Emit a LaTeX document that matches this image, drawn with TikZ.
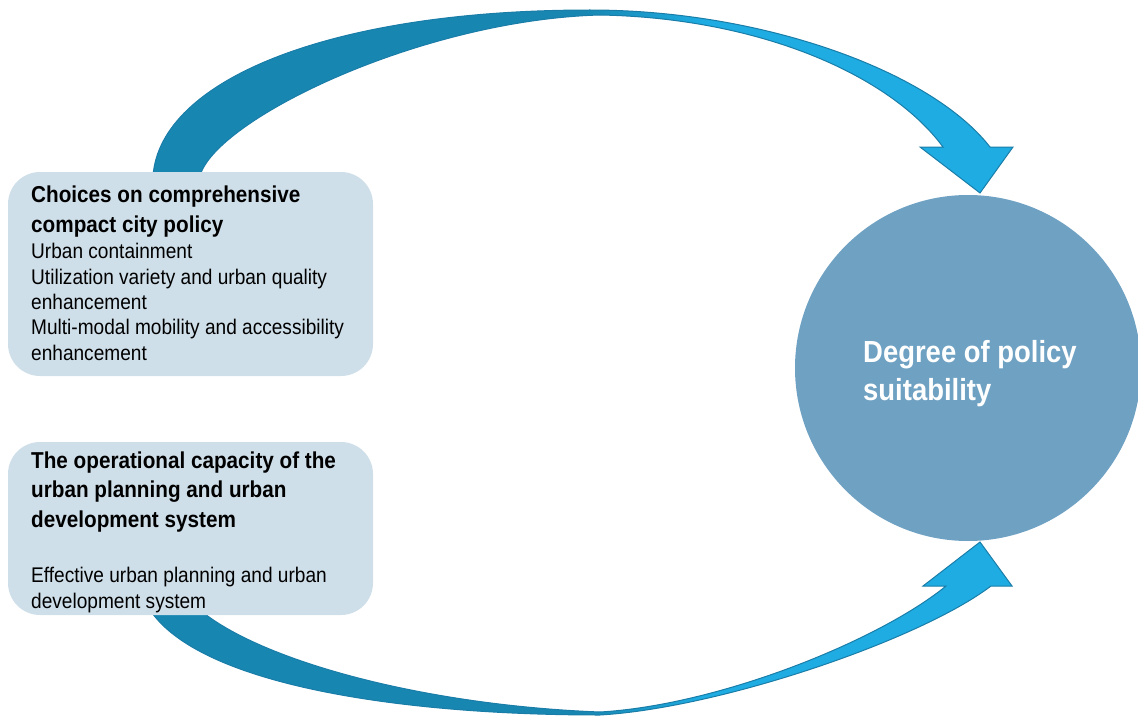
\documentclass[tikz,border=0pt]{standalone}
\usepackage{fontspec}
\setmainfont{Liberation Sans}[FakeStretch=0.9]
\definecolor{boxfill}{HTML}{CFDFE9}
\definecolor{suitfill}{HTML}{6FA1C2}
\definecolor{arrowdark}{HTML}{1787B2}
\definecolor{arrowlight}{HTML}{1EACE2}
\definecolor{arrowedge}{HTML}{1A7DA8}
\pgfdeclarehorizontalshading{arrowgrad}{100bp}{color(0bp)=(arrowdark); color(50bp)=(arrowdark); color(57bp)=(arrowlight); color(100bp)=(arrowlight)}
\tikzset{
	choicebox/.style={fill=boxfill, rounded corners=32pt},
	bigarrow/.style={shading=arrowgrad, draw=arrowedge, line width=1pt},
	% base of a multi-line node = baseline of its last line
	titletext/.style={anchor=base west, inner sep=0, align=left, font=\bfseries\fontsize{23}{29.5}\selectfont},
	bodytext/.style={anchor=base west, inner sep=0, align=left, font=\fontsize{21.2}{25.3}\selectfont},
}

\begin{document}
\begin{tikzpicture}[x=1pt, y=-1pt]
		%%%%% START %%%%%
		\useasboundingbox (0,0) rectangle (1138,717);
		
		\node[circle, fill=suitfill, minimum size=346pt, inner sep=0] (suit) at (968,368) {};
		\node[anchor=base west, inner sep=0, text=white, align=left,
			font=\bfseries\fontsize{30.5}{38}\selectfont] (suitlabel) at (863,400) {Degree of policy\\suitability};
		
		% upper arrow
		\shadedraw[bigarrow] (153,176) .. controls (160,80) and (330,10) .. (590,10)
			.. controls (760,10) and (930,70) .. (990,147)
			-- (1013,147) -- (980,193) -- (920,147) -- (943,147)
			.. controls (890,75) and (760,18) .. (600,15)
			.. controls (420,20) and (215,120) .. (200,176) -- cycle;
		
		% lower arrow
		\shadedraw[bigarrow] (150,610) .. controls (200,685) and (400,715) .. (600,715)
			.. controls (720,708) and (920,640) .. (991,586)
			-- (1012,586) -- (980,542) -- (923,586) -- (946,586)
			.. controls (880,640) and (720,705) .. (600,712)
			.. controls (420,705) and (260,660) .. (200,610) -- cycle;
		
		\fill[choicebox] (8,172) rectangle (373,376);
		\node[titletext] (choicetitle) at (31,232) {Choices on comprehensive\\compact city policy};
		\node[bodytext] (choicebody) at (31,360) {Urban containment\\Utilization variety and urban quality\\enhancement\\Multi-modal mobility and accessibility\\enhancement};
		
		\fill[choicebox] (8,442) rectangle (373,615);
		\node[titletext] (capacitytitle) at (31,527) {The operational capacity of the\\urban planning and urban\\development system};
		\node[bodytext] (capacitybody) at (31,608) {Effective urban planning and urban\\development system};
		%%%%% END %%%%%
\end{tikzpicture}
\end{document}
